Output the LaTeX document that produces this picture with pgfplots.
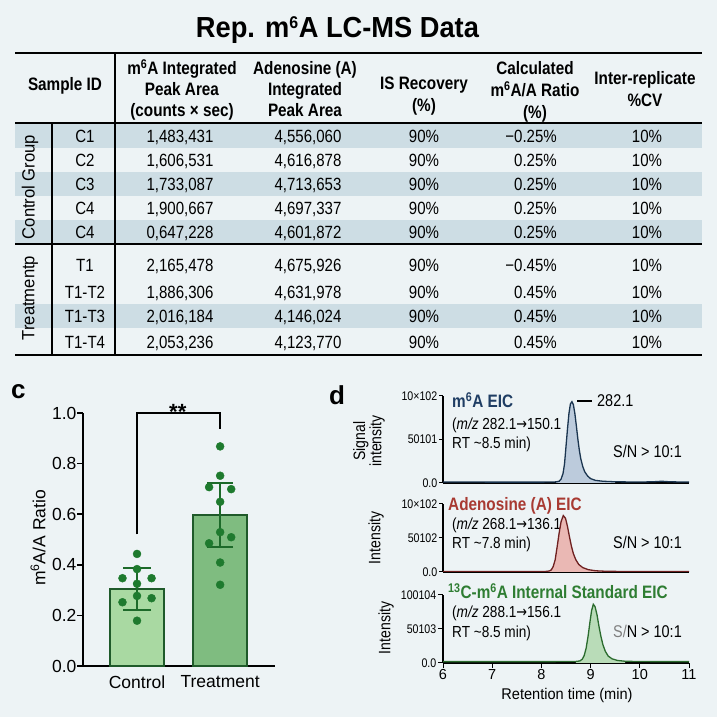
\documentclass[border=0pt]{standalone}
\usepackage{pgfplots}
\pgfplotsset{compat=1.18}
\usepackage{fontspec}
\setmainfont{Liberation Sans}[FakeStretch=0.85]
\newfontfamily\nw{Liberation Sans}
\newfontfamily\tf{Liberation Sans}[FakeStretch=0.94]
\newfontfamily\djvfont{DejaVu Sans}[FakeStretch=0.8]
\newcommand\arr{{\djvfont →}}
\definecolor{bg}{HTML}{EDF3F5}
\definecolor{band}{HTML}{CDDDE4}
\definecolor{ctrl}{HTML}{A9D9A2}
\definecolor{trt}{HTML}{7FBC80}
\definecolor{edge}{HTML}{1F5A2A}
\definecolor{dotc}{HTML}{1E7A2E}
\definecolor{errc}{HTML}{1D6A2A}
\definecolor{lnA}{HTML}{1B3550}\definecolor{fiA}{HTML}{BCCBDC}
\definecolor{lnB}{HTML}{6E2020}\definecolor{fiB}{HTML}{EAB8B4}
\definecolor{lnC}{HTML}{2B6B2E}\definecolor{fiC}{HTML}{B9DCB8}
\definecolor{tA}{HTML}{1F3D63}\definecolor{tB}{HTML}{A83A32}\definecolor{tC}{HTML}{2E7D32}
\newcommand\row[7]{%
 \node[anchor=base] at (85,717-#1-6.3) {#2};
 \node[anchor=base] at (180,717-#1-6.3) {#3};
 \node[anchor=base] at (308,717-#1-6.3) {#4};
 \node[anchor=base] at (424,717-#1-6.3) {#5};
 \node[anchor=base east] at (557,717-#1-6.3) {#6};
 \node[anchor=base] at (647,717-#1-6.3) {#7};}
\pgfplotsset{eic/.style={scale only axis, width=246pt, xmin=6, xmax=11, ymin=0, ymax=1,
  axis x line*=bottom, axis y line*=left, axis line style={line width=1.1pt},
  ytick={0,0.5,1}, tick align=outside, major tick length=4pt,
  tick style={line width=1pt,black}, xtick=\empty,
  yticklabel style={font=\fontsize{12.5}{13}\selectfont, inner sep=1.5pt}}}
\begin{document}
\begin{tikzpicture}
\begin{scope}[x=1pt,y=1pt]
\path[use as bounding box] (0,0) rectangle (717,717);
\fill[bg] (0,0) rectangle (717,717);
% table bands
\fill[band] (15,717-148) rectangle (702,717-124);
\fill[band] (15,717-196) rectangle (702,717-172);
\fill[band] (15,717-244) rectangle (702,717-220);
\fill[band] (15,717-328) rectangle (702,717-304);
% rules
\draw[line width=2.2pt] (15,717-53) -- (702,717-53);
\draw[line width=2pt] (15,717-123) -- (702,717-123);
\draw[line width=2.2pt] (15,717-244) -- (702,717-244);
\draw[line width=2.2pt] (15,717-355) -- (702,717-355);
\draw[line width=1.3pt] (115,717-53) -- (115,717-355);
\draw[line width=1.3pt] (52,717-123) -- (52,717-355);
% title
\node[anchor=base, font=\tf\bfseries\fontsize{29}{30}\selectfont] at (337.5,717-38) {Rep. m\textsuperscript{\fontsize{17}{17}\selectfont 6}A LC-MS Data};
% headers
\begin{scope}[every node/.style={anchor=base, inner sep=0pt}, font=\bfseries\fontsize{18}{20}\selectfont]
\node at (65,717-90.4) {Sample ID};
\node at (182,717-74.4) {m\textsuperscript{6}A Integrated};
\node at (182,717-95.4) {Peak Area};
\node at (182,717-116.4) {(counts × sec)};
\node at (305,717-74.4) {Adenosine (A)};
\node at (305,717-95.4) {Integrated};
\node at (305,717-116.4) {Peak Area};
\node at (424,717-89.4) {IS Recovery};
\node at (424,717-111.4) {(\%)};
\node at (535,717-74.4) {Calculated};
\node at (535,717-96.4) {m\textsuperscript{6}A/A Ratio};
\node at (535,717-118.4) {(\%)};
\node at (645,717-84.4) {Inter-replicate};
\node at (645,717-106.4) {\%CV};
\end{scope}
\begin{scope}[every node/.style={inner sep=0pt}, font=\fontsize{17.7}{20}\selectfont]
\row{136}{C1}{1,483,431}{4,556,060}{90\%}{−0.25\%}{10\%}
\row{160}{C2}{1,606,531}{4,616,878}{90\%}{0.25\%}{10\%}
\row{184}{C3}{1,733,087}{4,713,653}{90\%}{0.25\%}{10\%}
\row{208}{C4}{1,900,667}{4,697,337}{90\%}{0.25\%}{10\%}
\row{232}{C4}{0,647,228}{4,601,872}{90\%}{0.25\%}{10\%}
\row{265}{T1}{2,165,478}{4,675,926}{90\%}{−0.45\%}{10\%}
\row{292}{T1-T2}{1,886,306}{4,631,978}{90\%}{0.45\%}{10\%}
\row{316}{T1-T3}{2,016,184}{4,146,024}{90\%}{0.45\%}{10\%}
\row{342}{T1-T4}{2,053,236}{4,123,770}{90\%}{0.45\%}{10\%}
\node[rotate=90, font=\tf\fontsize{17.7}{20}\selectfont] at (30,717-187) {Control Group};
\node[rotate=90, font=\tf\fontsize{17.7}{20}\selectfont] at (30,717-298) {Treatmentp};
\end{scope}
% panel labels
\node[anchor=base west, font=\nw\bfseries\fontsize{26}{26}\selectfont, inner sep=0pt] at (11,717-399) {c};
\node[anchor=base west, font=\nw\bfseries\fontsize{26}{26}\selectfont, inner sep=0pt] at (329,717-405) {d};
% panel c y label
\node[rotate=90, font=\nw\fontsize{17.5}{20}\selectfont] at (38,717-538) {m\textsuperscript{6}A/A Ratio};
% panel d texts
\begin{scope}[every node/.style={anchor=base west, inner sep=0pt}]
\node[font=\bfseries\fontsize{18}{20}\selectfont, text=tA] at (452,717-407.4) {m\textsuperscript{6}A EIC};
\node[font=\fontsize{16}{18}\selectfont] at (452,717-429.7) {(\textit{m/z} 282.1\arr150.1};
\node[font=\fontsize{16}{18}\selectfont] at (452,717-448.7) {RT \textasciitilde 8.5 min)};
\node[font=\bfseries\fontsize{18}{20}\selectfont, text=tB] at (448,717-510.4) {Adenosine (A) EIC};
\node[font=\fontsize{16}{18}\selectfont] at (452,717-529.7) {(\textit{m/z} 268.1\arr136.1};
\node[font=\fontsize{16}{18}\selectfont] at (452,717-548.7) {RT \textasciitilde 7.8 min)};
\node[font=\bfseries\fontsize{18}{20}\selectfont, text=tC] at (448,717-598.4) {\textsuperscript{13}C-m\textsuperscript{6}A Internal Standard EIC};
\node[font=\fontsize{16}{18}\selectfont] at (452,717-617.7) {(\textit{m/z} 288.1\arr156.1};
\node[font=\fontsize{16}{18}\selectfont] at (452,717-637.7) {RT \textasciitilde 8.5 min)};
\node[font=\fontsize{17}{18}\selectfont] at (597,717-407) {282.1};
\end{scope}
\draw[line width=1.1pt] (577,717-401) -- (592,717-401);
\begin{scope}[every node/.style={anchor=base east, inner sep=0pt}, font=\fontsize{17}{18}\selectfont]
\node at (682,717-458) {S/N > 10:1};
\node at (682,717-549) {S/N > 10:1};
\node at (682,717-638) {\textcolor{gray}{S/}N > 10:1};
\end{scope}
\node[rotate=90, align=center, font=\fontsize{16.5}{15}\selectfont] at (369,717-441) {Signal\\intensity};
\node[rotate=90, font=\fontsize{16.5}{15}\selectfont] at (376,717-538) {Intensity};
\node[rotate=90, font=\fontsize{16.5}{15}\selectfont] at (386,717-628) {Intensity};
\node[font=\tf\fontsize{15.5}{16}\selectfont] at (567,717-695) {Retention time (min)};
\end{scope}

% ---------- panel c ----------
\begin{axis}[at={(83pt,51pt)}, anchor=south west, scale only axis, width=192pt, height=253pt,
  xmin=-0.65, xmax=1.66, ymin=0, ymax=1,
  axis x line*=bottom, axis y line*=left, axis line style={line width=1.5pt},
  xtick={0,1}, xticklabels={Control,Treatment}, xtick style={draw=none},
  ytick={0,0.2,0.4,0.6,0.8,1}, yticklabels={0.0,0.2,0.4,0.6,0.8,1.0},
  ytick style={line width=1.5pt,black}, tick align=outside, major tick length=6pt,
  ticklabel style={font=\nw\fontsize{17.5}{20}\selectfont},
  yticklabel style={xshift=3pt}, clip=false]
\addplot[ybar, bar width=54pt, bar shift=0pt, fill=ctrl, draw=edge, line width=1.5pt,
  error bars/.cd, y dir=both, y explicit,
  error bar style={line width=2pt, draw=errc},
  error mark options={rotate=90, mark size=14pt, line width=2pt, draw=errc}]
  coordinates {(0,0.304) +- (0,0.083)};
\addplot[ybar, bar width=54pt, bar shift=0pt, fill=trt, draw=edge, line width=1.5pt,
  error bars/.cd, y dir=both, y explicit,
  error bar style={line width=2pt, draw=errc},
  error mark options={rotate=90, mark size=13pt, line width=2pt, draw=errc}]
  coordinates {(1,0.597) +- (0,0.128)};
\addplot[only marks, mark=*, mark size=4pt, mark options={fill=dotc, draw=dotc}] coordinates {
 (0,0.443) (0,0.383) (-0.175,0.347) (0,0.325) (0.175,0.347) (0,0.277) (-0.175,0.252) (0.175,0.268) (0,0.179)};
\addplot[only marks, mark=*, mark size=4pt, mark options={fill=dotc, draw=dotc}] coordinates {
 (1,0.868) (1,0.752) (0.867,0.707) (1.133,0.699) (1,0.649) (1,0.529) (0.867,0.485) (1.133,0.509) (1,0.409) (1,0.321)};
\addplot[line width=1.3pt, black, mark=none] coordinates {(0,0.52) (0,1) (1,1) (1,0.937)};
\node[anchor=base, font=\nw\bfseries\fontsize{22}{22}\selectfont] at (axis cs:0.49,0.975) {**};
\end{axis}

% ---------- panel d ----------
\begin{axis}[eic, at={(443pt,234pt)}, anchor=south west, height=87pt,
  yticklabels={0.0,50101,10×102}]
\addplot[fill=fiA, draw=none] coordinates {(8.3,0.013) (8.36,0.02) (8.40,0.045) (8.44,0.11) (8.47,0.22) (8.50,0.42) (8.53,0.62) (8.56,0.80) (8.59,0.91) (8.62,0.934) (8.65,0.90) (8.68,0.80) (8.71,0.66) (8.74,0.51) (8.77,0.38) (8.80,0.28) (8.84,0.19) (8.88,0.13) (8.94,0.08) (9.0,0.05) (9.1,0.03) (9.25,0.02) (9.5,0.014)} \closedcycle;
\addplot[draw=lnA, line width=1.3pt, mark=none] coordinates {(6.0,0.012) (6.5,0.011) (7.0,0.010) (7.5,0.010) (8.0,0.010) (8.2,0.011) (8.3,0.013) (8.36,0.02) (8.40,0.045) (8.44,0.11) (8.47,0.22) (8.50,0.42) (8.53,0.62) (8.56,0.80) (8.59,0.91) (8.62,0.934) (8.65,0.90) (8.68,0.80) (8.71,0.66) (8.74,0.51) (8.77,0.38) (8.80,0.28) (8.84,0.19) (8.88,0.13) (8.94,0.08) (9.0,0.05) (9.1,0.03) (9.25,0.02) (9.5,0.014) (9.8,0.012) (10.1,0.012) (10.3,0.015) (10.45,0.02) (10.6,0.014) (10.8,0.012) (11.0,0.012)};
\end{axis}
\begin{axis}[eic, at={(443pt,145pt)}, anchor=south west, height=68pt,
  yticklabels={0.0,50102,10×102}]
\addplot[fill=fiB, draw=none] coordinates {(8.1,0.009) (8.16,0.015) (8.20,0.03) (8.24,0.08) (8.28,0.18) (8.32,0.37) (8.36,0.57) (8.40,0.74) (8.445,0.83) (8.49,0.79) (8.53,0.67) (8.57,0.52) (8.61,0.38) (8.65,0.27) (8.70,0.18) (8.76,0.11) (8.84,0.065) (8.95,0.035) (9.1,0.018) (9.3,0.011)} \closedcycle;
\addplot[draw=lnB, line width=1.3pt, mark=none] coordinates {(6.0,0.006) (7.0,0.006) (7.5,0.006) (8.0,0.007) (8.1,0.009) (8.16,0.015) (8.20,0.03) (8.24,0.08) (8.28,0.18) (8.32,0.37) (8.36,0.57) (8.40,0.74) (8.445,0.83) (8.49,0.79) (8.53,0.67) (8.57,0.52) (8.61,0.38) (8.65,0.27) (8.70,0.18) (8.76,0.11) (8.84,0.065) (8.95,0.035) (9.1,0.018) (9.3,0.011) (9.6,0.008) (10.0,0.007) (10.5,0.006) (11.0,0.006)};
\end{axis}
\begin{axis}[eic, at={(443pt,54pt)}, anchor=south west, height=68pt,
  yticklabels={0.0,50103,100104},
  xtick={6,7,8,9,10,11}, xticklabels={6,7,8,9,10,11}, major tick length=5pt,
  xticklabel style={font=\nw\fontsize{14.5}{15}\selectfont, inner sep=1pt}]
\addplot[fill=fiC, draw=none] coordinates {(8.7,0.023) (8.78,0.03) (8.83,0.055) (8.87,0.11) (8.91,0.22) (8.95,0.40) (8.99,0.62) (9.02,0.77) (9.055,0.863) (9.09,0.83) (9.13,0.71) (9.17,0.54) (9.21,0.39) (9.25,0.27) (9.30,0.17) (9.36,0.10) (9.44,0.06) (9.55,0.037) (9.7,0.026)} \closedcycle;
\addplot[draw=lnC, line width=1.3pt, mark=none] coordinates {(6.0,0.02) (7.0,0.02) (8.0,0.02) (8.5,0.021) (8.7,0.023) (8.78,0.03) (8.83,0.055) (8.87,0.11) (8.91,0.22) (8.95,0.40) (8.99,0.62) (9.02,0.77) (9.055,0.863) (9.09,0.83) (9.13,0.71) (9.17,0.54) (9.21,0.39) (9.25,0.27) (9.30,0.17) (9.36,0.10) (9.44,0.06) (9.55,0.037) (9.7,0.026) (10.0,0.021) (10.5,0.02) (11.0,0.02)};
\end{axis}
\end{tikzpicture}
\end{document}
